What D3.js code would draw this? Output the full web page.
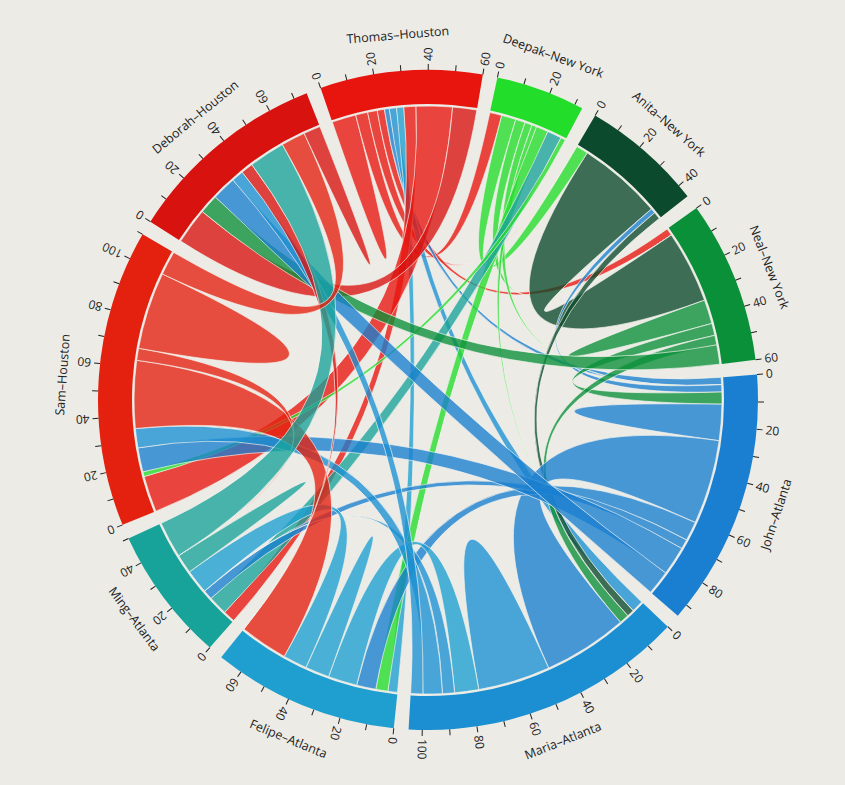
<!DOCTYPE html>
<html><head><meta charset="utf-8">
<script src="https://cdn.jsdelivr.net/npm/d3@7"></script>
<style>body{margin:0;background:#ecebe6;}svg{display:block;font-family:"Open Sans",sans-serif;}</style>
</head><body><svg id="c" width="845" height="785"></svg>
<script>
const names=["Thomas–Houston","Deepak–New York","Anita–New York","Neal–New York","John–Atlanta","Maria–Atlanta","Felipe–Atlanta","Ming–Atlanta","Sam–Houston","Deborah–Houston"];
const colors=["#e8140e","#22dd2a","#0b4a2c","#0a9038","#1a7fd0","#1b8fd2","#1e9fcf","#18a39a","#e4200e","#d8120f"];
const matrix=[
[10,5,4,3,2,3,3,5,15,10],
[5,0,6,4,3,2,5,6,2,0],
[0,5,0,35,2,3,0,0,0,0],
[3,0,30,10,5,4,0,0,0,8],
[3,0,3,5,15,35,8,4,12,10],
[5,0,3,4,35,30,10,5,8,5],
[4,5,0,0,8,12,10,10,20,0],
[5,8,0,0,4,0,10,8,0,15],
[15,2,0,0,10,8,28,5,32,10],
[15,0,0,8,10,5,5,15,10,7]];
const svg=d3.select("#c");
const cx=428,cy=400,outer=330,inner=296;
const rotDeg=-19;
const g=svg.append("g").attr("transform",`translate(${cx},${cy}) rotate(${rotDeg})`);
const chord=d3.chord().padAngle(0.045)(matrix);
const arc=d3.arc().innerRadius(inner).outerRadius(outer);
const ribbon=d3.ribbon().radius(inner-2);
g.append("g").selectAll("path").data(chord).join("path")
 .attr("d",ribbon)
 .attr("fill",d=>colors[d.source.value>=d.target.value?d.source.index:d.target.index])
 .attr("fill-opacity",0.78)
 .attr("stroke","#f4f4ee").attr("stroke-width",0.6);
const grp=g.append("g").selectAll("g").data(chord.groups).join("g");
grp.append("path").attr("d",arc).attr("fill",d=>colors[d.index]);
const k=(chord.groups[0].endAngle-chord.groups[0].startAngle)/chord.groups[0].value;
grp.each(function(d){
  const s=d3.select(this);
  const ticks=d3.range(0,d.value+0.01,10).map(v=>({v,a:d.startAngle+v*k}));
  const t=s.selectAll(".t").data(ticks).join("g")
   .attr("transform",t=>`rotate(${t.a*180/Math.PI-90}) translate(${outer},0)`);
  t.append("line").attr("x2",6).attr("stroke","#222");
  t.filter(t=>t.v%20===0).append("text").attr("x",9).attr("dy","0.35em")
   .attr("font-size",12).attr("fill","#222").text(t=>t.v);
  const mid=(d.startAngle+d.endAngle)/2;
  const deg=mid*180/Math.PI+rotDeg;
  const norm=((deg%360)+360)%360;
  const flip=norm>90&&norm<270;
  s.append("text").attr("font-size",12.5).attr("fill","#222").attr("text-anchor","middle")
   .attr("transform",`rotate(${mid*180/Math.PI}) translate(0,${-(outer+32)}) ${flip?"rotate(180)":""}`)
   .attr("dy",flip?"0.7em":"0").text(names[d.index]);
});
</script></body></html>
